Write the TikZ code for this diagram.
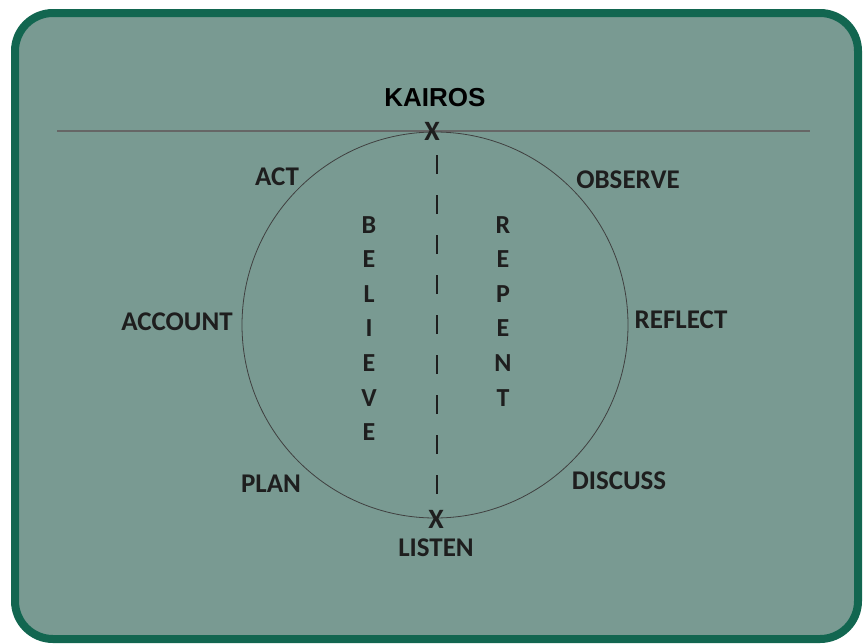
\documentclass[tikz,border=0pt]{standalone}
\usepackage{fontspec}
\setmainfont{Carlito}
\newfontfamily\headfont{Liberation Sans}
\definecolor{panelfill}{HTML}{799A92}
\definecolor{paneledge}{HTML}{126650}
\definecolor{ink}{HTML}{1E1E1E}
\begin{document}
\begin{tikzpicture}[x=1pt,y=-1pt,
  word/.style={font=\bfseries\fontsize{27}{29}\selectfont, text=ink, inner sep=0pt},
  letter/.style={font=\bfseries\fontsize{26}{28}\selectfont, text=ink, inner sep=0pt},
  title/.style={font=\headfont\bfseries\fontsize{26}{28}\selectfont, text=black, inner sep=0pt},
  crossmark/.style={font=\bfseries\fontsize{28}{30}\selectfont, text=ink, inner sep=0pt}]
\useasboundingbox (0,0) rectangle (867,643);
% rounded panel
\draw[paneledge, line width=8pt, fill=panelfill, rounded corners=38pt]
  (15,13) rectangle (858,639);
% horizon line and cycle circle
\coordinate (hl) at (57,131);
\coordinate (hr) at (810,131);
\draw[color=black!60, line width=1.4pt] (hl) -- (hr);
\draw[color=black!75, line width=0.8pt] (435,325) circle[radius=193];
% central dashed axis
\coordinate (dtop) at (437,155);
\coordinate (dbot) at (437,498);
\draw[ink, line width=1.8pt, dash pattern=on 19pt off 21pt] (dtop) -- (dbot);
% crossing marks
\node[crossmark] (xtop) at (432,131) {X};
\node[crossmark] (xbot) at (436,519) {X};
% labels
\node[title] (kairos) at (435,98) {KAIROS};
\node[word] (act) at (277,177) {ACT};
\node[word] (observe) at (628,180) {OBSERVE};
\node[word] (account) at (177,322) {ACCOUNT};
\node[word] (reflect) at (681,320) {REFLECT};
\node[word] (plan) at (271,484) {PLAN};
\node[word] (discuss) at (619,481) {DISCUSS};
\node[word] (listen) at (436,548) {LISTEN};
% vertical words
\foreach \ch [count=\i] in {B,E,L,I,E,V,E}
  \node[letter] (bel\i) at (369,190+34.6*\i) {\ch};
\foreach \ch [count=\i] in {R,E,P,E,N,T}
  \node[letter] (rep\i) at (503,190+34.6*\i) {\ch};
\end{tikzpicture}
\end{document}
